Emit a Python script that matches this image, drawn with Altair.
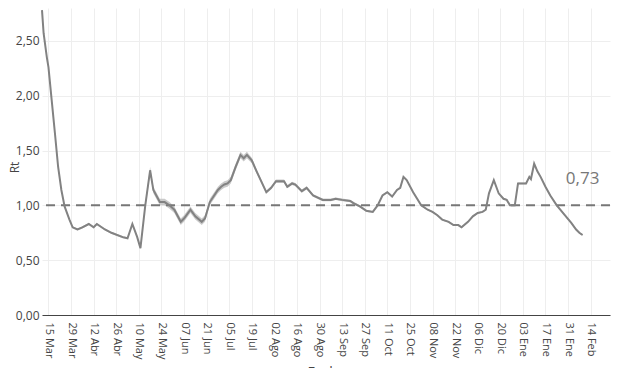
import json
import altair as alt
import pandas as pd

# ---- data ----
dates = [
    "2020-03-11", "2020-03-12", "2020-03-14", "2020-03-15", "2020-03-17", "2020-03-19", "2020-03-21", "2020-03-23", "2020-03-25", "2020-03-28",
    "2020-03-30", "2020-04-02", "2020-04-05", "2020-04-09", "2020-04-12", "2020-04-14", "2020-04-19", "2020-04-23", "2020-04-30", "2020-05-03",
    "2020-05-06", "2020-05-09", "2020-05-11", "2020-05-14", "2020-05-17", "2020-05-19", "2020-05-23", "2020-05-26", "2020-05-29", "2020-06-01",
    "2020-06-05", "2020-06-07", "2020-06-11", "2020-06-14", "2020-06-18", "2020-06-20", "2020-06-23", "2020-06-28", "2020-06-30", "2020-07-02",
    "2020-07-04", "2020-07-06", "2020-07-09", "2020-07-12", "2020-07-14", "2020-07-16", "2020-07-19", "2020-07-22", "2020-07-28", "2020-07-31",
    "2020-08-03", "2020-08-08", "2020-08-10", "2020-08-13", "2020-08-15", "2020-08-19", "2020-08-22", "2020-08-26", "2020-09-01", "2020-09-06",
    "2020-09-09", "2020-09-13", "2020-09-18", "2020-09-20", "2020-09-24", "2020-09-28", "2020-10-02", "2020-10-05", "2020-10-08", "2020-10-11",
    "2020-10-14", "2020-10-17", "2020-10-19", "2020-10-21", "2020-10-23", "2020-10-27", "2020-11-01", "2020-11-05", "2020-11-08", "2020-11-11",
    "2020-11-14", "2020-11-18", "2020-11-21", "2020-11-24", "2020-11-26", "2020-11-30", "2020-12-03", "2020-12-06", "2020-12-09", "2020-12-11",
    "2020-12-13", "2020-12-16", "2020-12-19", "2020-12-22", "2020-12-24", "2020-12-26", "2020-12-29", "2020-12-31", "2021-01-03", "2021-01-05",
    "2021-01-07", "2021-01-08", "2021-01-10", "2021-01-12", "2021-01-14", "2021-01-17", "2021-01-20", "2021-01-24", "2021-01-29", "2021-02-02",
    "2021-02-05", "2021-02-07", "2021-02-09",
]

rt = [
    2.78, 2.57, 2.35, 2.26, 1.96, 1.66, 1.35, 1.14, 0.99, 0.87,
    0.80, 0.78, 0.80, 0.83, 0.80, 0.83, 0.78, 0.75, 0.71, 0.70,
    0.83, 0.71, 0.61, 1.00, 1.32, 1.14, 1.03, 1.03, 1.00, 0.96,
    0.85, 0.88, 0.96, 0.90, 0.85, 0.88, 1.03, 1.14, 1.17, 1.19,
    1.20, 1.23, 1.35, 1.46, 1.43, 1.46, 1.41, 1.31, 1.12, 1.16,
    1.22, 1.22, 1.17, 1.20, 1.19, 1.13, 1.16, 1.09, 1.05, 1.05,
    1.06, 1.05, 1.04, 1.02, 0.99, 0.95, 0.94, 1.00, 1.09, 1.12,
    1.08, 1.14, 1.16, 1.26, 1.23, 1.12, 1.00, 0.96, 0.94, 0.91,
    0.87, 0.85, 0.82, 0.82, 0.80, 0.85, 0.90, 0.93, 0.94, 0.96,
    1.11, 1.23, 1.11, 1.06, 1.05, 1.00, 1.00, 1.20, 1.20, 1.20,
    1.26, 1.24, 1.38, 1.31, 1.26, 1.17, 1.09, 1.00, 0.91, 0.84,
    0.78, 0.75, 0.73,
]

# half-width of the confidence band around Rt
ci = [
    0.010, 0.010, 0.010, 0.010, 0.010, 0.010, 0.010, 0.010, 0.010, 0.010,
    0.010, 0.010, 0.010, 0.010, 0.010, 0.010, 0.010, 0.010, 0.010, 0.010,
    0.010, 0.010, 0.010, 0.025, 0.030, 0.030, 0.030, 0.030, 0.030, 0.030,
    0.030, 0.030, 0.030, 0.030, 0.030, 0.030, 0.030, 0.030, 0.030, 0.030,
    0.030, 0.030, 0.030, 0.030, 0.030, 0.030, 0.025, 0.020, 0.015, 0.015,
    0.015, 0.015, 0.015, 0.015, 0.015, 0.015, 0.015, 0.012, 0.012, 0.012,
    0.012, 0.012, 0.012, 0.012, 0.010, 0.010, 0.008, 0.008, 0.008, 0.008,
    0.008, 0.008, 0.008, 0.008, 0.008, 0.008, 0.008, 0.008, 0.008, 0.008,
    0.008, 0.008, 0.008, 0.008, 0.008, 0.008, 0.008, 0.008, 0.008, 0.008,
    0.008, 0.008, 0.008, 0.008, 0.008, 0.008, 0.008, 0.008, 0.008, 0.008,
    0.008, 0.008, 0.008, 0.008, 0.008, 0.008, 0.008, 0.008, 0.008, 0.008,
    0.008, 0.008, 0.008,
]

tick_dates = [
    "2020-03-15", "2020-03-29", "2020-04-12", "2020-04-26", "2020-05-10", "2020-05-24",
    "2020-06-07", "2020-06-21", "2020-07-05", "2020-07-19", "2020-08-02", "2020-08-16",
    "2020-08-30", "2020-09-13", "2020-09-27", "2020-10-11", "2020-10-25", "2020-11-08",
    "2020-11-22", "2020-12-06", "2020-12-20", "2021-01-03", "2021-01-17", "2021-01-31",
    "2021-02-14",
]
month_labels = ["Ene", "Feb", "Mar", "Abr", "May", "Jun", "Jul", "Ago", "Sep", "Oct", "Nov", "Dic"]
y_ticks = [0, 0.5, 1.0, 1.5, 2.0, 2.5]
threshold = 1.0
x_domain = ["2020-03-11", "2021-02-26"]
y_domain = [0, 2.8]

# ---- build tables ----
df = pd.DataFrame({
    "fecha": dates,
    "rt": rt,
    "lo": [r - c for r, c in zip(rt, ci)],
    "hi": [r + c for r, c in zip(rt, ci)],
})
last = df.tail(1).copy()
last["label"] = [f"{v:.2f}".replace(".", ",") for v in last["rt"]]


def dt(s):
    t = pd.Timestamp(s)
    return alt.DateTime(year=t.year, month=t.month, date=t.day, utc=True)


label_expr_x = (
    "utcFormat(datum.value, '%d') + ' ' + "
    + json.dumps(month_labels) + "[utcmonth(datum.value)]"
)

x_enc = alt.X(
    "fecha:T",
    scale=alt.Scale(type="utc", domain=[dt(d) for d in x_domain], nice=False),
    axis=alt.Axis(
        title="Fecha",
        values=[dt(d) for d in tick_dates],
        labelExpr=label_expr_x,
        labelAngle=90,
        labelFontSize=11,
        labelColor="#444",
        labelPadding=7,
        labelOverlap=False,
        labelFlush=False,
        ticks=False,
        domainColor="#444",
        domainWidth=1.2,
        gridColor="#eeeeee",
        titleFontSize=14,
        titleColor="#444",
        titleFontWeight="normal",
        titleY=50,
        titleBaseline="top",
    ),
)

y_scale = alt.Scale(domain=y_domain, nice=False, zero=True)
y_axis = alt.Axis(
    title="Rt",
    values=y_ticks,
    labelExpr="replace(format(datum.value, '.2f'), '.', ',')",
    labelFontSize=12,
    labelColor="#444",
    labelPadding=3,
    domain=False,
    ticks=False,
    gridColor="#eeeeee",
    titleFontSize=12,
    titleColor="#444",
    titleFontWeight="normal",
    titleX=-24,
    titleY=159,
    titleBaseline="alphabetic",
)

base = alt.Chart(df)

band = base.mark_area(color="#c4c4c4", opacity=0.9).encode(
    x=x_enc,
    y=alt.Y("lo:Q", scale=y_scale, axis=y_axis),
    y2="hi:Q",
)

rule = alt.Chart(pd.DataFrame({"y": [threshold]})).mark_rule(
    color="#777777", strokeDash=[9, 6], strokeWidth=2
).encode(y=alt.Y("y:Q", scale=y_scale))

line = base.mark_line(color="#828282", strokeWidth=2).encode(
    x=x_enc,
    y=alt.Y("rt:Q", scale=y_scale),
)

text = alt.Chart(last).mark_text(
    dy=-56, fontSize=17, color="#777777", align="center", baseline="middle"
).encode(
    x=x_enc,
    y=alt.Y("rt:Q", scale=y_scale),
    text="label:N",
)

chart = alt.layer(band, rule, line, text).properties(
    width=568,
    height=307,
    autosize=alt.AutoSizeParams(type="none"),
    padding={"left": 34, "top": 0, "right": 2, "bottom": 53},
).configure(
    font="Open Sans",
).configure_view(
    stroke=None,
)

chart.save("out.html", embed_options={"renderer": "svg", "actions": False})
